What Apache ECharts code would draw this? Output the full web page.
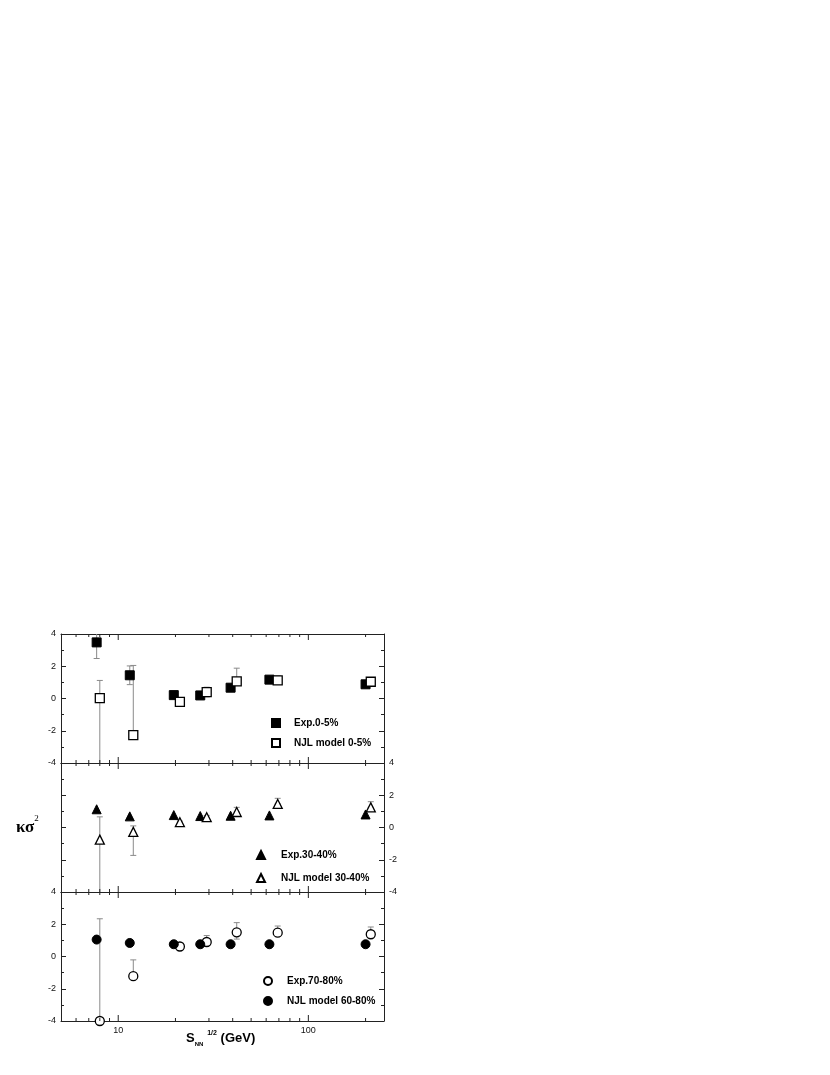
<!DOCTYPE html>
<html>
<head>
<meta charset="utf-8">
<script src="https://cdn.jsdelivr.net/npm/echarts@6/dist/echarts.min.js"></script>
<style>
html, body { margin: 0; padding: 0; background: #fff; }
#main { width: 830px; height: 1075px; }
</style>
</head>
<body>
<div id="main"></div>
<script>
// beam energies (GeV); the model points are drawn a bit to the right of the data
const xExp = [7.7, 11.5, 19.6, 27, 39, 62.4, 200];
const xNjl = [8.0, 12.0, 21.1, 29.2, 42, 69, 213];
const majorTicks = [10, 100];
const minorTicks = [6, 7, 8, 9, 20, 30, 40, 50, 60, 70, 80, 90, 200];

// panel 1 : 0-5%
const exp05 = [3.48, 1.44, 0.21, 0.19, 0.67, 1.17, 0.88];
const exp05Lo = [2.48, 0.86, 0.0, 0.05, 0.52, 1.02, 0.78];
const exp05Hi = [4.48, 2.02, 0.45, 0.33, 0.82, 1.32, 0.98];
const njl05 = [0.02, -2.27, -0.21, 0.40, 1.06, 1.12, 1.04];
const njl05Lo = [-10, -2.27, -0.31, 0.10, 1.06, 1.12, 1.04];
const njl05Hi = [1.12, 2.05, -0.11, 0.70, 1.88, 1.40, 1.30];

// panel 2 : 30-40%
const exp3040 = [1.13, 0.69, 0.77, 0.71, 0.73, 0.75, 0.81];
const njl3040 = [-0.75, -0.27, 0.33, 0.64, 0.96, 1.46, 1.25];
const njl3040Lo = [-10, -1.73, 0.20, 0.50, 0.96, 1.46, 1.25];
const njl3040Hi = [0.66, 0.10, 0.40, 0.75, 1.25, 1.81, 1.60];

// panel 3 : 70-80% data, 60-80% model
const exp7080 = [-4.0, -1.22, 0.62, 0.90, 1.50, 1.48, 1.38];
const exp7080Lo = [-4.0, -1.22, 0.55, 0.90, 1.08, 1.48, 1.38];
const exp7080Hi = [2.34, -0.21, 0.70, 1.30, 2.10, 1.89, 1.83];
const njl6080 = [1.05, 0.84, 0.76, 0.76, 0.76, 0.76, 0.76];

const FONT = 'Liberation Sans, Arial, sans-serif';
const panels = [
  { top: 634, height: 129, leftLabels: true, rightLabels: false,
    names: ['Exp.0-5%', 'NJL model 0-5%'], symbols: ['rect', 'rect'], filled: [true, false],
    xs: [xExp, xNjl], ys: [exp05, njl05], errs: [[exp05Lo, exp05Hi], [njl05Lo, njl05Hi]],
    legend: { left: 271, top: 717, gap: 8, pad: 9 } },
  { top: 763, height: 129, leftLabels: false, rightLabels: true,
    names: ['Exp.30-40%', 'NJL model 30-40%'], symbols: ['triangle', 'triangle'], filled: [true, false],
    xs: [xExp, xNjl], ys: [exp3040, njl3040], errs: [null, [njl3040Lo, njl3040Hi]],
    legend: { left: 256, top: 849, gap: 11, pad: 11 } },
  { top: 892, height: 129, leftLabels: true, rightLabels: false,
    names: ['Exp.70-80%', 'NJL model 60-80%'], symbols: ['circle', 'circle'], filled: [false, true],
    xs: [xNjl, xExp], ys: [exp7080, njl6080], errs: [[exp7080Lo, exp7080Hi], null],
    legend: { left: 263, top: 975, gap: 8, pad: 10 } }
];

function errRender(params, api) {
  const cs = params.coordSys;
  const x = api.value(0);
  const pLo = api.coord([x, api.value(1)]);
  const pHi = api.coord([x, api.value(2)]);
  const yTop = cs.y, yBot = cs.y + cs.height;
  const style = { stroke: '#8a8a8a', lineWidth: 1 };
  const children = [];
  const y1 = Math.min(Math.max(pHi[1], yTop), yBot);
  const y2 = Math.min(Math.max(pLo[1], yTop), yBot);
  children.push({ type: 'line', shape: { x1: pLo[0], y1: y1, x2: pLo[0], y2: y2 }, style: style });
  if (pHi[1] >= yTop) children.push({ type: 'line', shape: { x1: pHi[0] - 3, y1: pHi[1], x2: pHi[0] + 3, y2: pHi[1] }, style: style });
  if (pLo[1] <= yBot) children.push({ type: 'line', shape: { x1: pLo[0] - 3, y1: pLo[1], x2: pLo[0] + 3, y2: pLo[1] }, style: style });
  return { type: 'group', children: children };
}

function tickRender(params, api) {
  const cs = params.coordSys;
  const p = api.coord([api.value(0), 0]);
  const len = api.value(1);
  const style = { stroke: '#222', lineWidth: 1 };
  return { type: 'group', children: [
    { type: 'line', shape: { x1: p[0], y1: cs.y + cs.height, x2: p[0], y2: cs.y + cs.height - len }, style: style },
    { type: 'line', shape: { x1: p[0], y1: cs.y, x2: p[0], y2: cs.y + len }, style: style }
  ] };
}

const grid = [], xAxis = [], yAxis = [], series = [], legend = [];
const axisLine = { show: true, onZero: false, lineStyle: { color: '#222', width: 1 } };

panels.forEach(function (pn, i) {
  grid.push({ left: 61, right: 446, top: pn.top, height: pn.height });
  const isBottom = i === 2;
  xAxis.push({
    type: 'log', logBase: 10, min: 5, max: 250, gridIndex: i, position: 'bottom',
    axisLine: axisLine, axisTick: { show: false }, splitLine: { show: false },
    axisLabel: {
      show: isBottom, margin: 5, fontFamily: FONT, fontSize: 9, color: '#111',
      formatter: function (v) { return (Math.abs(v - 10) < 1e-6 || Math.abs(v - 100) < 1e-6) ? String(Math.round(v)) : ''; }
    }
  });
  xAxis.push({
    type: 'log', logBase: 10, min: 5, max: 250, gridIndex: i, position: 'top',
    axisLine: axisLine, axisTick: { show: false }, axisLabel: { show: false }, splitLine: { show: false }
  });
  ['left', 'right'].forEach(function (side) {
    yAxis.push({
      type: 'value', min: -4, max: 4, interval: 2, gridIndex: i, position: side,
      axisLine: axisLine,
      axisTick: { show: true, inside: true, length: 5, lineStyle: { color: '#222' } },
      minorTick: { show: true, splitNumber: 2, length: 3, lineStyle: { color: '#222' } },
      splitLine: { show: false },
      axisLabel: {
        show: side === 'left' ? pn.leftLabels : pn.rightLabels,
        margin: 5, fontFamily: FONT, fontSize: 9, color: '#111'
      }
    });
  });

  // x ticks (log axis minor ticks at 2..9 x decade)
  series.push({
    type: 'custom', xAxisIndex: 2 * i, yAxisIndex: 2 * i, silent: true, z: 5,
    renderItem: tickRender,
    data: majorTicks.map(function (v) { return [v, 6]; }).concat(minorTicks.map(function (v) { return [v, 3]; }))
  });

  [0, 1].forEach(function (k) {
    const xs = pn.xs[k], ys = pn.ys[k];
    if (pn.errs[k]) {
      const lo = pn.errs[k][0], hi = pn.errs[k][1];
      series.push({
        type: 'custom', xAxisIndex: 2 * i, yAxisIndex: 2 * i, silent: true, z: 1,
        renderItem: errRender,
        data: xs.map(function (x, j) { return [x, lo[j], hi[j]]; })
      });
    }
    series.push({
      name: pn.names[k], type: 'scatter', xAxisIndex: 2 * i, yAxisIndex: 2 * i, z: 3,
      symbol: pn.symbols[k], symbolSize: 9, clip: true,
      itemStyle: pn.filled[k]
        ? { color: '#000', borderColor: '#000', borderWidth: 1, opacity: 1 }
        : { color: '#fff', borderColor: '#000', borderWidth: 1.3, opacity: 1 },
      data: xs.map(function (x, j) { return [x, ys[j]]; })
    });
  });

  legend.push({
    data: pn.names, orient: 'vertical', left: pn.legend.left, top: pn.legend.top, padding: 0,
    itemWidth: 8, itemHeight: 8, itemGap: pn.legend.gap, selectedMode: false,
    itemStyle: { opacity: 1 },
    textStyle: { fontFamily: FONT, fontSize: 10, fontWeight: 'bold', color: '#000',
      lineHeight: 12, padding: [0, 0, 0, pn.legend.pad] }
  });
});

const chart = echarts.init(document.getElementById('main'));
chart.setOption({
  backgroundColor: '#fff',
  animation: false,
  grid: grid,
  xAxis: xAxis,
  yAxis: yAxis,
  legend: legend,
  series: series,
  graphic: [
    { type: 'text', left: 16, top: 814,
      style: { text: '{a|κσ}{b|2}', rich: {
        a: { fontFamily: 'Liberation Serif, Times New Roman, serif', fontSize: 17, fontWeight: 'bold', color: '#000', verticalAlign: 'bottom', lineHeight: 22 },
        b: { fontFamily: 'Liberation Serif, Times New Roman, serif', fontSize: 9, color: '#000', verticalAlign: 'top', lineHeight: 22 } } } },
    { type: 'text', left: 186, top: 1030,
      style: { text: '{a|S}{b|NN}{c|  1/2}{a| (GeV)}', rich: {
        a: { fontFamily: FONT, fontSize: 13, fontWeight: 'bold', color: '#000', verticalAlign: 'middle', lineHeight: 17 },
        b: { fontFamily: FONT, fontSize: 6, fontWeight: 'bold', color: '#000', verticalAlign: 'bottom', lineHeight: 17 },
        c: { fontFamily: FONT, fontSize: 7, fontWeight: 'bold', color: '#000', verticalAlign: 'top', lineHeight: 17 } } } }
  ]
});
</script>
</body>
</html>
